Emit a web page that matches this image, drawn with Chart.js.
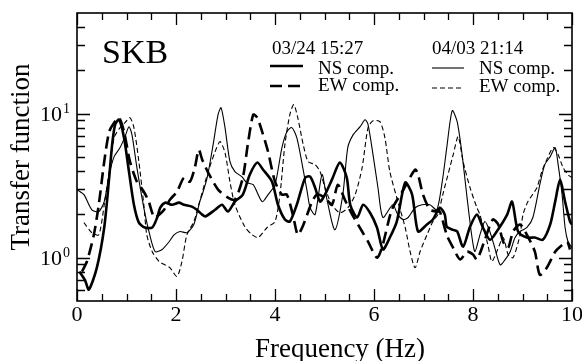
<!DOCTYPE html>
<html lang="en">
<head>
<meta charset="UTF-8">
<title>SKB transfer function</title>
<script src="https://cdn.jsdelivr.net/npm/chart.js"></script>
<style>
  html, body { margin: 0; padding: 0; background: #fff; }
  #wrap { width: 582px; height: 361px; }
</style>
</head>
<body>
<div id="wrap"><canvas id="tfChart" width="582" height="361"></canvas></div>
<script>
// 03/24 15:27, NS component (thick solid)
const ns0324Freq = [0.05,0.16,0.24,0.40,0.55,0.65,0.71,0.77,0.85,0.95,1.05,1.15,1.25,1.37,1.52,1.62,1.68,1.78,1.92,2.06,2.16,2.32,2.42,2.53,2.59,2.79,2.93,3.05,3.19,3.35,3.49,3.64,3.76,3.94,4.06,4.20,4.30,4.44,4.61,4.71,4.81,4.91,5.01,5.15,5.31,5.45,5.52,5.66,5.78,5.92,6.06,6.18,6.32,6.46,6.63,6.77,6.89,7.07,7.19,7.33,7.43,7.47,7.60,7.68,7.80,7.94,8.08,8.20,8.34,8.48,8.69,8.79,8.91,9.09,9.25,9.41,9.56,9.66,9.76,9.86,9.96,10];
const ns0324Amp = [0.80,0.70,0.60,0.85,1.62,3.59,6.09,8.39,9.1,6.81,3.96,2.33,1.75,1.62,1.62,1.90,2.22,2.41,2.33,2.41,2.33,2.26,2.15,1.99,1.93,2.15,2.33,2.09,2.45,2.74,3.77,4.57,4.08,3.37,2.33,1.84,1.78,2.33,3.59,3.65,3.06,2.45,2.74,3.48,4.57,3.59,2.33,1.90,2.33,2.05,1.62,1.14,1.38,1.78,3.32,2.74,1.52,1.70,1.84,2.22,1.99,1.64,1.56,1.52,1.19,1.64,1.99,1.62,1.33,1.52,1.99,2.45,1.52,1.38,1.38,1.33,1.70,2.45,3.48,2.45,1.78,1.70];

// 03/24 15:27, EW component (thick dashed)
const ew0324Freq = [0.10,0.20,0.34,0.44,0.55,0.65,0.75,0.85,0.95,1.07,1.21,1.35,1.45,1.56,1.66,1.76,1.88,2.02,2.16,2.28,2.38,2.46,2.53,2.65,2.85,3.05,3.19,3.35,3.45,3.56,3.64,3.74,3.86,4.00,4.14,4.24,4.36,4.46,4.55,4.65,4.75,4.85,5.01,5.15,5.27,5.41,5.56,5.76,5.88,6.06,6.16,6.36,6.57,6.83,6.89,6.99,7.13,7.27,7.33,7.47,7.60,7.74,7.88,8.00,8.08,8.24,8.40,8.51,8.61,8.71,8.81,8.95,9.09,9.25,9.35,9.49,9.66,9.76,9.90,9.96];
const ew0324Amp = [0.80,0.94,1.44,2.33,4.64,7.5,8.66,9.38,7.5,4.64,3.37,2.87,2.45,1.90,1.99,2.15,2.53,2.87,3.59,3.37,4.22,5.62,4.79,3.9,2.97,2.61,2.53,3.59,6.09,9.84,9.38,7.5,5.44,3.37,2.74,2.74,1.99,1.44,1.62,1.99,2.45,2.74,2.61,2.33,3.21,2.53,1.99,1.52,1.29,1.0,1.17,2.15,2.87,4.08,3.77,2.74,2.15,2.09,2.09,1.44,1.17,0.97,1.10,1.05,0.97,1.33,1.84,1.70,1.29,1.17,1.52,1.70,1.44,1.10,0.76,0.85,1.10,1.19,1.29,1.14];

// 04/03 21:14, NS component (thin solid)
const ns0403Freq = [0,0.14,0.30,0.44,0.55,0.65,0.75,0.87,0.97,1.05,1.11,1.21,1.35,1.47,1.58,1.72,1.86,1.96,2.08,2.22,2.36,2.48,2.53,2.63,2.75,2.85,2.91,2.99,3.09,3.19,3.33,3.43,3.56,3.74,3.86,4.00,4.14,4.24,4.34,4.44,4.55,4.65,4.71,4.81,4.95,5.05,5.21,5.37,5.47,5.58,5.72,5.82,5.88,5.98,6.08,6.18,6.38,6.48,6.59,6.69,6.83,6.97,7.13,7.27,7.39,7.47,7.58,7.68,7.78,7.88,7.98,8.04,8.14,8.24,8.34,8.44,8.55,8.65,8.75,8.85,8.95,9.09,9.21,9.35,9.45,9.56,9.66,9.72,9.80,9.86,9.92,10];
const ns0403Amp = [2.97,2.74,2.15,2.09,2.45,3.77,5.03,5.81,6.92,8.12,7.15,4.22,2.22,1.44,1.10,1.14,1.29,1.44,1.52,1.49,1.70,2.45,2.74,3.59,6.09,9.84,11.0,8.0,4.64,3.96,3.65,3.32,3.21,2.45,2.74,3.21,5.81,7.5,8.0,6.81,4.43,2.87,2.22,1.99,3.77,2.53,1.56,2.74,5.81,7.15,8.12,9.08,8.39,5.19,3.06,1.90,2.33,1.99,1.84,1.90,2.22,2.33,2.33,2.15,3.59,5.81,10.5,8.8,5.19,2.61,1.38,1.10,1.44,1.78,1.52,1.17,0.89,0.97,1.10,1.38,1.52,1.62,1.90,3.21,4.43,5.03,5.81,4.43,2.74,1.62,1.29,1.17];

// 04/03 21:14, EW component (thin dashed)
const ew0403Freq = [0.14,0.30,0.44,0.55,0.65,0.75,0.87,0.97,1.07,1.15,1.25,1.35,1.41,1.52,1.66,1.78,1.88,2.02,2.12,2.22,2.36,2.46,2.65,2.79,2.89,2.99,3.09,3.19,3.39,3.54,3.66,3.84,4.00,4.10,4.20,4.30,4.38,4.46,4.57,4.67,4.81,4.91,5.01,5.15,5.31,5.47,5.62,5.76,5.88,5.98,6.12,6.22,6.32,6.46,6.63,6.73,6.83,6.93,7.07,7.19,7.29,7.39,7.60,7.70,7.80,7.94,8.08,8.14,8.30,8.38,8.48,8.61,8.71,8.81,8.95,9.01,9.11,9.29,9.39,9.49,9.62,9.72,9.82,9.92,10];
const ew0403Amp = [1.75,1.49,1.44,2.33,3.96,6.81,8.0,8.66,9.38,8.0,4.64,2.33,1.44,1.10,0.94,0.89,0.85,0.74,0.94,1.44,1.78,2.33,3.96,5.44,6.39,5.35,3.37,2.33,1.64,1.44,1.38,1.62,1.78,2.74,6.09,9.84,11.55,9.38,6.09,4.64,4.43,3.96,3.06,2.33,2.05,2.22,2.74,4.22,8.0,8.94,8.8,6.81,3.96,2.61,1.62,1.10,0.85,1.10,1.44,1.78,1.99,2.74,5.19,6.92,4.64,3.06,2.22,1.99,1.23,0.94,1.10,1.38,1.05,1.0,1.44,1.99,2.45,3.06,3.96,4.79,5.81,5.19,4.22,3.77,3.59];

// axis ticks
const xMajorTicks = [0, 2, 4, 6, 8, 10];
const xMinorTicks = [0.5, 1, 1.5, 2.5, 3, 3.5, 4.5, 5, 5.5, 6.5, 7, 7.5, 8.5, 9, 9.5];
const yMajorTicks = [1, 10];
const yMinorTicks = [0.6, 0.7, 0.8, 0.9, 2, 3, 4, 5, 6, 7, 8, 9, 20, 30, 40];
const yLabelExp = ['0', '1'];

const serif = "'Liberation Serif', 'Times New Roman', serif";

function pts(freq, amp) {
    return freq.map((f, i) => ({ x: f, y: amp[i] }));
}

const datasets = [
    { label: '04/03 NS comp.', data: pts(ns0403Freq, ns0403Amp), borderWidth: 1.1, borderDash: [] },
    { label: '04/03 EW comp.', data: pts(ew0403Freq, ew0403Amp), borderWidth: 1.1, borderDash: [5, 3] },
    { label: '03/24 NS comp.', data: pts(ns0324Freq, ns0324Amp), borderWidth: 2.6, borderDash: [] },
    { label: '03/24 EW comp.', data: pts(ew0324Freq, ew0324Amp), borderWidth: 2.6, borderDash: [12, 6] }
].map(d => Object.assign(d, {
    showLine: true, borderColor: '#000', backgroundColor: '#000',
    pointRadius: 0, tension: 0.25, fill: false
}));

const decor = {
    id: 'decor',
    afterDraw(chart) {
        const { ctx, chartArea: a, scales: { x, y } } = chart;
        ctx.save();
        ctx.strokeStyle = '#000';
        ctx.fillStyle = '#000';

        // inward tick marks on all four sides
        ctx.lineWidth = 1.3;
        ctx.beginPath();
        const xTick = (v, len) => {
            const px = Math.round(x.getPixelForValue(v)) + 0.5;
            ctx.moveTo(px, a.bottom); ctx.lineTo(px, a.bottom - len);
            ctx.moveTo(px, a.top); ctx.lineTo(px, a.top + len);
        };
        const yTick = (v, len) => {
            const py = Math.round(y.getPixelForValue(v)) + 0.5;
            ctx.moveTo(a.left, py); ctx.lineTo(a.left + len, py);
            ctx.moveTo(a.right, py); ctx.lineTo(a.right - len, py);
        };
        xMajorTicks.forEach(v => xTick(v, 12));
        xMinorTicks.forEach(v => xTick(v, 7));
        yMajorTicks.forEach(v => yTick(v, 13));
        yMinorTicks.forEach(v => yTick(v, 8));
        ctx.stroke();

        // frame
        ctx.lineWidth = 1.6;
        ctx.strokeRect(a.left, a.top, a.right - a.left, a.bottom - a.top);

        // y labels 10^0, 10^1
        yMajorTicks.forEach((v, i) => {
            const py = y.getPixelForValue(v);
            ctx.font = '22px ' + serif;
            ctx.textAlign = 'right';
            ctx.textBaseline = 'alphabetic';
            ctx.fillText('10', 62, py + 7.5);
            ctx.font = '14px ' + serif;
            ctx.textAlign = 'left';
            ctx.fillText(yLabelExp[i], 63, py - 0.5);
        });

        // axis titles
        ctx.font = '27px ' + serif;
        ctx.textAlign = 'center';
        ctx.textBaseline = 'alphabetic';
        ctx.fillText('Frequency (Hz)', 340, 357);
        ctx.save();
        ctx.translate(29, 157);
        ctx.rotate(-Math.PI / 2);
        ctx.fillText('Transfer function', 0, 0);
        ctx.restore();

        // station name
        ctx.font = '34px ' + serif;
        ctx.textAlign = 'left';
        ctx.fillText('SKB', 102, 63);

        // legend
        ctx.font = '19px ' + serif;
        ctx.fillText('03/24 15:27', 272, 54);
        ctx.fillText('NS comp.', 318, 74);
        ctx.fillText('EW comp.', 318, 91);
        ctx.fillText('04/03 21:14', 432, 54);
        ctx.fillText('NS comp.', 479, 74);
        ctx.fillText('EW comp.', 479, 92);
        const sample = (ds, x0, x1, yy) => {
            ctx.lineWidth = ds.borderWidth;
            ctx.setLineDash(ds.borderDash);
            ctx.beginPath();
            ctx.moveTo(x0, yy); ctx.lineTo(x1, yy);
            ctx.stroke();
        };
        sample(datasets[2], 270, 303, 66);
        sample(datasets[3], 270, 303, 86);
        sample(datasets[0], 432, 464, 68);
        sample(datasets[1], 432, 464, 88);
        ctx.restore();
    }
};

new Chart(document.getElementById('tfChart'), {
    type: 'scatter',
    data: { datasets },
    options: {
        responsive: false,
        animation: false,
        devicePixelRatio: 1,
        layout: { padding: { top: 13, right: 10, left: 0, bottom: 0 } },
        plugins: { legend: { display: false }, tooltip: { enabled: false } },
        scales: {
            x: {
                type: 'linear', min: 0, max: 10,
                ticks: {
                    stepSize: 2, autoSkip: false, maxRotation: 0, padding: 1,
                    color: '#000', font: { family: serif, size: 22 }
                },
                grid: { display: false, drawTicks: false },
                border: { display: false },
                afterFit(s) { s.height = 60; s.paddingLeft = 0; s.paddingRight = 0; }
            },
            y: {
                type: 'logarithmic', min: 0.5, max: 50,
                ticks: { display: false },
                grid: { display: false, drawTicks: false },
                border: { display: false },
                afterFit(s) { s.width = 77; }
            }
        }
    },
    plugins: [decor]
});
</script>
</body>
</html>
